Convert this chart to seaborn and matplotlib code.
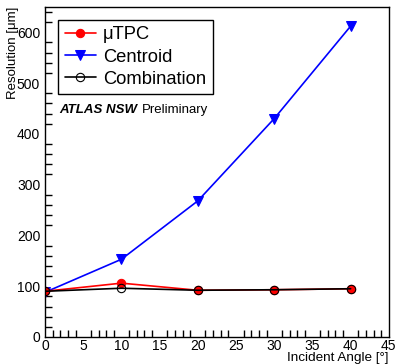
import matplotlib
matplotlib.use("Agg")
import matplotlib.pyplot as plt
import seaborn as sns
import pandas as pd
from matplotlib.ticker import MultipleLocator

angles = [0, 10, 20, 30, 40]
utpc = [90, 106, 92, 93, 95]
centroid = [88, 153, 268, 430, 612]
combination = [90, 96, 92, 93, 95]

sns.set_theme(style="white")
plt.rcParams['font.family'] = ['Liberation Sans', 'DejaVu Sans']
plt.rcParams['text.color'] = 'black'
plt.rcParams['axes.labelcolor'] = 'black'

fig = plt.figure(figsize=(3.97, 3.64), dpi=100)
ax = fig.add_axes([0.1134, 0.0742, 0.866, 0.907])

df_comb = pd.DataFrame({"x": angles, "y": combination})
df_utpc = pd.DataFrame({"x": angles, "y": utpc})
df_cent = pd.DataFrame({"x": angles, "y": centroid})

sns.lineplot(data=df_cent, x="x", y="y", ax=ax, color="#0000ff", marker="v",
             markersize=6.5, markeredgecolor="#0000ff", linewidth=1.2, label="Centroid")
sns.lineplot(data=df_utpc, x="x", y="y", ax=ax, color="#ff0000", marker="o",
             markersize=6, markeredgecolor="#ff0000", linewidth=1.2, label="μTPC")
sns.lineplot(data=df_comb, x="x", y="y", ax=ax, color="black", marker="o",
             markersize=6, markerfacecolor="none", markeredgecolor="black",
             markeredgewidth=0.8, linewidth=1.2, label="Combination")

ax.set_xlim(0, 45)
ax.set_ylim(0, 650)
ax.xaxis.set_major_locator(MultipleLocator(5))
ax.xaxis.set_minor_locator(MultipleLocator(1))
ax.yaxis.set_major_locator(MultipleLocator(100))
ax.yaxis.set_minor_locator(MultipleLocator(20))
ax.tick_params(which="both", direction="in", top=False, right=False,
               labelsize=10, colors="black")
ax.tick_params(axis="x", which="major", pad=1.5)
ax.tick_params(axis="y", which="major", pad=3.5)
ax.tick_params(which="major", length=10, width=1)
ax.tick_params(which="minor", length=5, width=1, bottom=True, left=True)
for s in ax.spines.values():
    s.set_color("black")
    s.set_linewidth(1)

ax.set_xlabel("")
ax.set_ylabel("")
fig.text(0.978, 0.008, "Incident Angle [°]", fontsize=9.7, ha="right",
         va="baseline", color="black")
fig.text(0.018, 0.981, "Resolution [μm]", fontsize=9.5, rotation=90,
         ha="left", va="top", color="black")

handles, labels = ax.get_legend_handles_labels()
order = [labels.index("μTPC"), labels.index("Centroid"), labels.index("Combination")]
leg = ax.legend([handles[i] for i in order], [labels[i] for i in order],
                loc="upper left", bbox_to_anchor=(0.038, 0.96), borderaxespad=0,
                fontsize=13.2, frameon=True, fancybox=False, framealpha=1,
                edgecolor="black", handlelength=1.7, handletextpad=0.4,
                borderpad=0.35, labelspacing=0.28)
leg.get_frame().set_linewidth(1)
for t in leg.get_texts():
    t.set_color("black")

ax.text(0.041, 0.688, "ATLAS NSW", transform=ax.transAxes, fontsize=9.5,
        fontweight="bold", fontstyle="italic", va="center", ha="left", color="black")
ax.text(0.282, 0.688, "Preliminary", transform=ax.transAxes, fontsize=9.5,
        va="center", ha="left", color="black")

fig.savefig("out.png", dpi=100)
